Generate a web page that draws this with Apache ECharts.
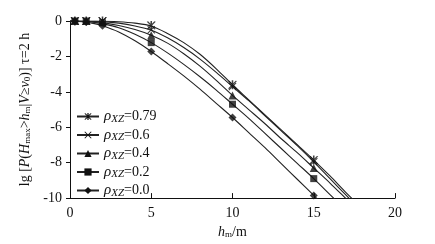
<!DOCTYPE html>
<html>
<head>
<meta charset="utf-8">
<script src="https://cdn.jsdelivr.net/npm/echarts@6/dist/echarts.min.js"></script>
<style>
  html, body { margin: 0; padding: 0; background: #fff; }
  #chart { width: 435px; height: 244px; }
</style>
</head>
<body>
<div id="chart"></div>
<script>
// rho_XZ levels
const rhoNames = ['0.79', '0.6', '0.4', '0.2', '0.0'];

// fitted curves, sampled along h_m
const curveX = [0, 0.5, 1, 1.5, 2, 3, 4, 5, 6, 7, 8, 9, 10, 11, 12, 13, 14, 15, 16, 17, 18];
const curve079 = [0, 0, 0, 0, -0.01, -0.04, -0.12, -0.28, -0.7, -1.22, -1.88, -2.7, -3.6, -4.45, -5.3, -6.15, -7.0, -7.85, -8.75, -9.7, -10.6];
const curve06 = [0, 0, -0.01, -0.02, -0.04, -0.12, -0.28, -0.52, -0.95, -1.5, -2.15, -2.9, -3.7, -4.5, -5.35, -6.2, -7.05, -7.95, -8.9, -9.85, -10.8];
const curve04 = [0, -0.01, -0.02, -0.05, -0.09, -0.25, -0.48, -0.8, -1.25, -1.85, -2.55, -3.35, -4.2, -5.0, -5.8, -6.65, -7.45, -8.3, -9.15, -10.05, -10.95];
const curve02 = [0, -0.01, -0.04, -0.08, -0.15, -0.38, -0.75, -1.22, -1.8, -2.45, -3.15, -3.9, -4.7, -5.5, -6.35, -7.2, -8.05, -8.9, -9.8, -10.7, -11.6];
const curve00 = [0, -0.02, -0.07, -0.15, -0.27, -0.62, -1.12, -1.72, -2.4, -3.1, -3.85, -4.65, -5.45, -6.3, -7.15, -8.05, -8.95, -9.85, -10.75, -11.6, -12.5];

// simulated points
const markX = [0.3, 1, 2, 5, 10, 15];
const mark079 = [0, 0, 0, -0.25, -3.6, -7.85];
const mark06 = [0, 0, 0, -0.5, -3.7, -7.95];
const mark04 = [0, 0, -0.05, -0.8, -4.2, -8.3];
const mark02 = [0, 0, -0.1, -1.22, -4.7, -8.9];
const mark00 = [0, -0.05, -0.27, -1.72, -5.45, -9.85];

const xTicks = { min: 0, max: 20, interval: 5 };
const yTicks = { min: -10, max: 0, interval: 2 };

const curves = [curve079, curve06, curve04, curve02, curve00];
const marks = [mark079, mark06, mark04, mark02, mark00];

const asterisk = 'path://M-1,10L1,10L1,-10L-1,-10Z M4.13,9.16L5.87,8.16L-4.13,-9.16L-5.87,-8.16Z M5.87,-8.16L4.13,-9.16L-5.87,8.16L-4.13,9.16Z';
const cross = 'path://M6.36,7.78L7.78,6.36L-6.36,-7.78L-7.78,-6.36Z M7.78,-6.36L6.36,-7.78L-7.78,6.36L-6.36,7.78Z';
const symbols = [asterisk, cross, 'triangle', 'rect', 'diamond'];
const symbolSizes = [9, 8, 8, 7, 8];

const font = 'Liberation Serif';
const ink = '#111';

const series = [];
rhoNames.forEach((name, i) => {
  series.push({
    name,
    type: 'line',
    smooth: 0.3,
    showSymbol: false,
    symbol: symbols[i],
    symbolSize: symbolSizes[i],
    lineStyle: { color: '#222', width: 1.1 },
    itemStyle: { color: ink },
    data: curveX.map((x, k) => [x, curves[i][k]]),
    z: 2
  });
  series.push({
    name: 'pts' + name,
    type: 'scatter',
    symbol: symbols[i],
    symbolSize: symbolSizes[i],
    itemStyle: { color: ink },
    data: markX.map((x, k) => [x, marks[i][k]]),
    z: 3
  });
});

const chart = echarts.init(document.getElementById('chart'), null, { renderer: 'canvas' });
chart.setOption({
  animation: false,
  backgroundColor: '#fff',
  textStyle: { fontFamily: font },
  grid: { left: 70, right: 40, top: 21, bottom: 43 },
  legend: {
    data: rhoNames,
    orient: 'vertical',
    left: 71,
    top: 104,
    itemWidth: 22,
    itemHeight: 9,
    itemGap: 3,
    formatter: name => '{r|ρ}{s|XZ}{n|=' + name + '}',
    textStyle: {
      fontFamily: font,
      color: ink,
      rich: {
        r: { fontFamily: font, fontStyle: 'italic', fontSize: 15, color: ink },
        s: { fontFamily: font, fontStyle: 'italic', fontSize: 11, color: ink, padding: [5, 0, 0, 0] },
        n: { fontFamily: font, fontSize: 14, color: ink }
      }
    }
  },
  xAxis: {
    type: 'value',
    min: xTicks.min,
    max: xTicks.max,
    interval: xTicks.interval,
    name: '{i|h}{s|m}{n|/m}',
    nameLocation: 'middle',
    nameGap: 24,
    nameTextStyle: {
      rich: {
        i: { fontFamily: font, fontStyle: 'italic', fontSize: 14, color: ink },
        s: { fontFamily: font, fontSize: 9, color: ink, padding: [5, 0, 0, 0] },
        n: { fontFamily: font, fontSize: 14, color: ink }
      }
    },
    axisLine: { onZero: false, lineStyle: { color: ink, width: 1 } },
    axisTick: { inside: true, length: 5, lineStyle: { color: ink } },
    axisLabel: { color: ink, fontFamily: font, fontSize: 14, margin: 8 },
    splitLine: { show: false }
  },
  yAxis: {
    type: 'value',
    min: yTicks.min,
    max: yTicks.max,
    interval: yTicks.interval,
    name: '{n|lg [}{i|P}{n|(}{i|H}{s|max}{n|>}{i|h}{s|m}{n||}{i|V}{n|≥}{i|v}{s|0}{n|)] τ=2 h}',
    nameLocation: 'middle',
    nameRotate: 90,
    nameGap: 27,
    nameTextStyle: {
      rich: {
        i: { fontFamily: font, fontStyle: 'italic', fontSize: 14, color: ink },
        s: { fontFamily: font, fontSize: 9, color: ink, padding: [5, 0, 0, 0] },
        n: { fontFamily: font, fontSize: 14, color: ink }
      }
    },
    axisLine: { show: true, onZero: false, lineStyle: { color: ink, width: 1 } },
    axisTick: { show: true, inside: false, length: 4, lineStyle: { color: ink } },
    axisLabel: { color: ink, fontFamily: font, fontSize: 14, margin: 8 },
    splitLine: { show: false }
  },
  series
});
</script>
</body>
</html>
